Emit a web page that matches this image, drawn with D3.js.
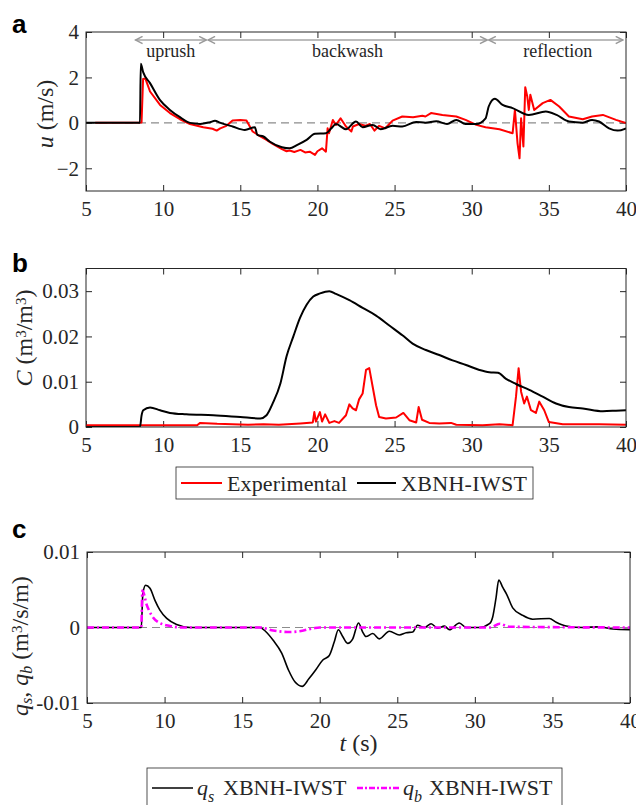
<!DOCTYPE html>
<html>
<head>
<meta charset="utf-8">
<script src="https://cdn.jsdelivr.net/npm/d3@7"></script>
<style>
  body { margin: 0; background: #fff; }
  svg text { font-family: "Liberation Serif", "Times New Roman", serif; fill: #262626; }
  .letter { font-family: "Liberation Sans", Arial, sans-serif; font-weight: bold; fill: #000; }
</style>
</head>
<body>
<svg id="chart" width="636" height="805"></svg>
<script>
// ---- data ----
const xTicks = [5, 10, 15, 20, 25, 30, 35, 40];
const uTicks = [-2, 0, 2, 4];
const cTicks = [0, 0.01, 0.02, 0.03];
const qTicks = [-0.01, 0, 0.01];

// phases in panel a: [start, end, label]
const phases = [[8.2, 12.8, 'uprush'], [12.9, 31.0, 'backwash'], [31.1, 39.8, 'reflection']];

// panel a, velocity u (m/s)
const uModel = [[5, 0], [8.5, 0], [8.55, 2.6], [8.71, 2.22], [9.15, 1.75], [9.8, 1.0], [10.44, 0.57],
  [11.09, 0.25], [11.74, 0], [12.4, -0.05], [13.04, 0.03], [13.36, 0.09], [13.68, 0.01], [14.5, -0.16],
  [15.3, -0.31], [15.95, -0.19], [16.1, -0.53], [16.5, -0.6], [16.9, -0.82], [17.7, -1.07], [18.2, -1.12],
  [18.7, -0.97], [19.3, -0.75], [19.84, -0.48], [20.55, -0.46], [20.9, -0.24], [21.2, -0.05], [21.85, -0.28],
  [22.5, 0.06], [22.93, -0.19], [23.58, -0.09], [24.1, -0.28], [24.87, -0.13], [25.5, -0.16], [26.4, 0.04],
  [27, 0.01], [27.7, 0.07], [28.4, -0.05], [29, 0.13], [29.6, -0.05], [30.3, -0.05], [30.9, 0.2], [31.1, 0.72],
  [31.5, 1.06], [32.0, 0.79], [32.65, 0.65], [33.7, 0.35], [34.8, 0.5], [35.5, 0.35], [36.3, 0.06], [37.2, 0.01],
  [37.8, 0.13], [38.25, 0.06], [38.9, -0.24], [39.45, -0.34], [40, -0.24]];
const uExp = [[5.6, 0], [8.6, 0.02], [8.7, 1.93], [8.85, 1.95], [9.15, 1.38], [9.8, 0.79], [10.44, 0.43],
  [11.09, 0.16], [11.74, -0.05], [12.6, -0.19], [13.2, -0.26], [13.47, -0.34], [13.7, -0.24], [14.1, -0.13],
  [14.5, 0.1], [15.0, 0.13], [15.4, 0.1], [15.8, -0.38], [16.3, -0.6], [16.7, -0.75], [17.1, -0.93], [17.7, -1.16],
  [18.0, -1.25], [18.2, -1.22], [18.5, -1.28], [18.9, -1.19], [19.2, -1.3], [19.5, -1.27], [19.84, -1.41],
  [20.0, -1.25], [20.3, -1.12], [20.55, -1.27], [20.66, -0.24], [20.75, -0.46], [21.0, 0.13], [21.2, -0.09],
  [21.5, 0.2], [21.85, -0.16], [22.2, -0.38], [22.3, -0.16], [22.7, -0.05], [23.1, -0.13], [23.4, -0.05],
  [23.7, -0.34], [24.0, -0.13], [24.4, -0.24], [24.87, 0.1], [25.5, 0.28], [26.2, 0.25], [26.8, 0.31],
  [27.0, 0.28], [27.36, 0.43], [28.1, 0.35], [29, 0.28], [29.6, 0.13], [30.3, -0.09], [30.9, -0.19],
  [31.8, -0.28], [32.65, -0.46], [32.8, 0.57], [32.97, -0.9], [33.1, -1.56], [33.2, 0.2], [33.35, -1.04],
  [33.47, 1.57], [33.6, 1.16], [33.7, 0.57], [33.8, 1.24], [34.05, 0.57], [34.6, 0.87], [35.1, 1.01],
  [35.67, 0.72], [36.3, 0.28], [37.2, 0.16], [37.8, 0.28], [38.5, 0.35], [39.35, 0.13], [40, -0.01]];

// panel b, concentration C (m3/m3)
const cModel = [[5, 0], [8.5, 0], [8.6, 0.0025], [8.71, 0.0037], [9.15, 0.0043], [9.8, 0.0037],
  [10.44, 0.0031], [11.5, 0.0028], [13.25, 0.0026], [15, 0.0022], [16.3, 0.0019], [16.7, 0.0026],
  [17.1, 0.0052], [17.6, 0.0096], [18.0, 0.0156], [18.44, 0.02], [18.87, 0.0241], [19.3, 0.027],
  [19.73, 0.0288], [20.17, 0.0295], [20.77, 0.030], [21.2, 0.0294], [22.07, 0.028], [22.93, 0.0263],
  [23.8, 0.0246], [24.66, 0.0224], [25.53, 0.0202], [26.17, 0.0184], [27.03, 0.017], [27.9, 0.0159],
  [28.76, 0.0147], [29.63, 0.0137], [30.5, 0.0126], [31.14, 0.0121], [31.7, 0.012], [32.2, 0.0107],
  [32.87, 0.0095], [33.73, 0.0082], [34.6, 0.0067], [35.46, 0.0052], [36.3, 0.0044], [37.2, 0.0041],
  [38.5, 0.0035], [39.35, 0.0036], [40, 0.0037]];
const cExp = [[5, 0.0004], [12.2, 0.0004], [12.4, 0.0009], [13.5, 0.0007], [15.5, 0.0005], [16.5, 0.0006],
  [17.5, 0.0005], [18.9, 0.0008], [19.7, 0.001], [19.8, 0.0033], [19.9, 0.0012], [20.16, 0.0033],
  [20.3, 0.0012], [20.5, 0.0028], [20.77, 0.0009], [21.1, 0.0013], [21.4, 0.0009], [21.85, 0.0026],
  [22.07, 0.005], [22.28, 0.0041], [22.5, 0.0037], [22.7, 0.0061], [22.93, 0.0074], [23.15, 0.0126],
  [23.36, 0.013], [23.58, 0.0089], [23.8, 0.0048], [24.0, 0.0022], [24.44, 0.0019], [25.1, 0.0021],
  [25.57, 0.0031], [25.96, 0.0015], [26.4, 0.001], [26.56, 0.0044], [26.78, 0.0016], [27.25, 0.0009],
  [27.9, 0.0008], [28.66, 0.0009], [29, 0.0005], [30.7, 0.0004], [31.8, 0.0006], [32.65, 0.0004],
  [32.87, 0.0067], [33.04, 0.013], [33.2, 0.0078], [33.4, 0.0052], [33.58, 0.0067], [33.84, 0.0037],
  [34.16, 0.0031], [34.38, 0.0056], [34.7, 0.0037], [35.0, 0.0011], [35.9, 0.0006], [38.27, 0.0006],
  [40, 0.0005]];

// panel c, transport q (m3/s/m)
const qsModel = [[5, 0], [8.5, 0], [8.6, 0.0045], [8.78, 0.0056], [9.06, 0.0052], [9.38, 0.0036],
  [9.7, 0.0023], [10.14, 0.0012], [10.78, 0.0004], [11.64, 0], [16.15, 0], [16.5, -0.0005], [17.0, -0.0017],
  [17.55, -0.0034], [18.0, -0.0057], [18.4, -0.0072], [18.87, -0.0078], [19.3, -0.0068], [19.75, -0.0056],
  [20.2, -0.0043], [20.62, -0.0037], [20.94, -0.0019], [21.2, -0.0003], [21.48, -0.0012], [21.8, -0.0021],
  [22.13, -0.0015], [22.5, 0.0006], [22.77, -0.0006], [22.98, -0.0012], [23.42, -0.0008], [23.84, -0.0015],
  [24.49, -0.0005], [25.13, -0.001], [25.57, -0.0007], [26.0, -0.0006], [26.3, 0.0003], [26.75, 0],
  [27.18, 0.0005], [27.6, -0.0001], [28.04, 0.0002], [28.36, -0.0003], [29.0, 0.0006], [29.44, 0],
  [30.3, 0], [30.94, 0.0005], [31.15, 0.0014], [31.37, 0.004], [31.54, 0.0063], [31.8, 0.0053],
  [32.05, 0.0044], [32.44, 0.0026], [33.09, 0.0016], [33.73, 0.0011], [34.8, 0.0012], [35.24, 0.0007],
  [35.88, 0.0002], [36.96, 0], [38.0, 0.0001], [38.9, -0.0002], [40, -0.0003]];
const qbModel = [[5, 0], [8.5, 0], [8.57, 0.0049], [8.85, 0.003], [9.17, 0.0016], [9.6, 0.0007],
  [10.35, 0.0002], [11.2, 0], [16.15, 0], [17.0, -0.0004], [18.1, -0.0006], [18.7, -0.0005],
  [19.6, -0.0001], [20, 0], [31.0, 0], [31.6, 0.0005], [32.2, 0.0001], [40, 0]];

// ---- drawing ----
const svg = d3.select('#chart');
const axisColor = '#262626';
const serif = 'font-family: "Liberation Serif", "Times New Roman", serif';

function makePanel(cfg) {
  const x = d3.scaleLinear().domain([5, 40]).range(cfg.xr);
  const y = d3.scaleLinear().domain(cfg.yd).range(cfg.yr);
  const g = svg.append('g');
  const clipId = 'clip-' + cfg.id;
  svg.append('clipPath').attr('id', clipId).append('rect')
    .attr('x', cfg.xr[0]).attr('y', cfg.yr[1])
    .attr('width', cfg.xr[1] - cfg.xr[0]).attr('height', cfg.yr[0] - cfg.yr[1]);

  // ticks inside the box on all four sides
  const bottom = g.append('g').attr('transform', 'translate(0,' + cfg.yr[0] + ')')
    .call(d3.axisBottom(x).tickValues(xTicks).tickSizeInner(-6).tickSizeOuter(0).tickPadding(9).tickFormat(d3.format('d')));
  const left = g.append('g').attr('transform', 'translate(' + cfg.xr[0] + ',0)')
    .call(d3.axisLeft(y).tickValues(cfg.yt).tickSizeInner(-6).tickSizeOuter(0).tickPadding(7).tickFormat(cfg.fmt));
  g.append('g').attr('transform', 'translate(0,' + cfg.yr[1] + ')')
    .call(d3.axisTop(x).tickValues(xTicks).tickSizeInner(-6).tickSizeOuter(0).tickFormat(''));
  g.append('g').attr('transform', 'translate(' + cfg.xr[1] + ',0)')
    .call(d3.axisRight(y).tickValues(cfg.yt).tickSizeInner(-6).tickSizeOuter(0).tickFormat(''));
  g.selectAll('.domain').remove();
  g.selectAll('.tick line').attr('stroke', axisColor);
  g.selectAll('.tick text').attr('style', serif).attr('font-size', 21).attr('fill', axisColor);
  bottom.selectAll('text').attr('dy', '0.75em');

  const plot = svg.append('g').attr('clip-path', 'url(#' + clipId + ')');
  const panel = { x, y, g, plot };

  if (cfg.zero) {
    plot.append('line')
      .attr('x1', cfg.xr[0]).attr('x2', cfg.xr[1])
      .attr('y1', y(0)).attr('y2', y(0))
      .attr('stroke', '#8c8c8c').attr('stroke-width', 1.2).attr('stroke-dasharray', '8,5');
  }
  return panel;
}

function drawLine(panel, data, color, width, dash, curve) {
  const line = d3.line()
    .x(d => panel.x(d[0]))
    .y(d => panel.y(d[1]))
    .curve(curve || d3.curveLinear);
  panel.plot.append('path')
    .datum(data)
    .attr('fill', 'none')
    .attr('stroke', color)
    .attr('stroke-width', width)
    .attr('stroke-linejoin', 'round')
    .attr('stroke-dasharray', dash || null)
    .attr('d', line);
}

function drawBox(cfg) {
  svg.append('rect')
    .attr('x', cfg.xr[0]).attr('y', cfg.yr[1])
    .attr('width', cfg.xr[1] - cfg.xr[0]).attr('height', cfg.yr[0] - cfg.yr[1])
    .attr('fill', 'none').attr('stroke', axisColor).attr('stroke-width', 1);
}

// panel a
const cfgA = { id: 'a', xr: [86, 626], yd: [-3, 4], yr: [191, 32], yt: uTicks, fmt: d3.format('d'), zero: true };
const pA = makePanel(cfgA);
drawLine(pA, uExp, '#ff0000', 2);
drawLine(pA, uModel, '#000', 2, null, d3.curveMonotoneX);
drawBox(cfgA);

// phase arrows
const arrowY = 40;
svg.append('defs').append('marker')
  .attr('id', 'head').attr('viewBox', '0 0 10 10').attr('refX', 9).attr('refY', 5)
  .attr('markerWidth', 9).attr('markerHeight', 9).attr('markerUnits', 'userSpaceOnUse')
  .attr('orient', 'auto-start-reverse')
  .append('path').attr('d', 'M1,1 L9,5 L1,9').attr('fill', 'none').attr('stroke', '#999').attr('stroke-width', 1.6);
phases.forEach(p => {
  svg.append('line')
    .attr('x1', pA.x(p[0])).attr('x2', pA.x(p[1]))
    .attr('y1', arrowY).attr('y2', arrowY)
    .attr('stroke', '#a6a6a6').attr('stroke-width', 1.6)
    .attr('marker-start', 'url(#head)').attr('marker-end', 'url(#head)');
  svg.append('text')
    .attr('x', pA.x((p[0] + p[1]) / 2) + (p[2] === 'reflection' ? 2 : 0)).attr('y', 57)
    .attr('text-anchor', 'middle').attr('font-size', 18).attr('fill', '#222')
    .text(p[2]);
});

// panel b
const cfgB = { id: 'b', xr: [86, 626], yd: [0, 0.035], yr: [427, 268.5], yt: cTicks,
  fmt: d => d === 0 ? '0' : d3.format('.2f')(d), zero: false };
const pB = makePanel(cfgB);
drawLine(pB, cExp, '#ff0000', 2);
drawLine(pB, cModel, '#000', 2, null, d3.curveMonotoneX);
drawBox(cfgB);

// panel c
const cfgC = { id: 'c', xr: [87, 630], yd: [-0.01, 0.01], yr: [703, 552], yt: qTicks,
  fmt: d => d === 0 ? '0' : (d < 0 ? '-' : '') + d3.format('.2f')(Math.abs(d)), zero: true };
const pC = makePanel(cfgC);
drawLine(pC, qsModel, '#000', 1.6, null, d3.curveMonotoneX);
drawLine(pC, qbModel, '#ff00ff', 2.6, '7,3,2,3', d3.curveMonotoneX);
drawBox(cfgC);

// panel letters
[['a', 33], ['b', 272], ['c', 538]].forEach(d => {
  svg.append('text').attr('class', 'letter').attr('x', 12).attr('y', d[1])
    .attr('font-size', 26).text(d[0]);
});

// y labels
function yLabel(x, y, parts) {
  const t = svg.append('text')
    .attr('transform', 'translate(' + x + ',' + y + ') rotate(-90)')
    .attr('text-anchor', 'middle').attr('font-size', 24).attr('fill', '#222');
  parts.forEach(p => {
    const s = t.append('tspan').text(p.t);
    if (p.i) s.attr('font-style', 'italic');
    if (p.sup) s.attr('baseline-shift', '40%').attr('font-size', 15);
    if (p.sub) s.attr('baseline-shift', '-25%').attr('font-size', 16);
  });
}
yLabel(53, 114, [{ t: 'u', i: true }, { t: ' (m/s)' }]);
yLabel(32, 338, [{ t: 'C', i: true }, { t: ' (m' }, { t: '3', sup: true }, { t: '/m' }, { t: '3', sup: true }, { t: ')' }]);
yLabel(28, 646, [{ t: 'q', i: true }, { t: 's', i: true, sub: true }, { t: ', ' }, { t: 'q', i: true },
  { t: 'b', i: true, sub: true }, { t: ' (m' }, { t: '3', sup: true }, { t: '/s/m)' }]);

// x label
const xl = svg.append('text').attr('x', pC.x(22.5)).attr('y', 751).attr('text-anchor', 'middle')
  .attr('font-size', 24).attr('fill', '#222');
xl.append('tspan').attr('font-style', 'italic').text('t');
xl.append('tspan').text(' (s)');

// legend b
const legB = svg.append('g');
legB.append('rect').attr('x', 176).attr('y', 467).attr('width', 357).attr('height', 32)
  .attr('fill', '#fff').attr('stroke', axisColor).attr('stroke-width', 0.8);
legB.append('line').attr('x1', 181).attr('x2', 222).attr('y1', 483).attr('y2', 483).attr('stroke', '#ff0000').attr('stroke-width', 2);
legB.append('text').attr('x', 227).attr('y', 491).attr('font-size', 22).attr('textLength', 120).text('Experimental');
legB.append('line').attr('x1', 357).attr('x2', 396).attr('y1', 483).attr('y2', 483).attr('stroke', '#000').attr('stroke-width', 2);
legB.append('text').attr('x', 401).attr('y', 491).attr('font-size', 22).attr('textLength', 126).text('XBNH-IWST');

// legend c
const legC = svg.append('g');
legC.append('rect').attr('x', 147).attr('y', 768).attr('width', 415).attr('height', 40)
  .attr('fill', '#fff').attr('stroke', axisColor).attr('stroke-width', 0.8);
legC.append('line').attr('x1', 152).attr('x2', 193).attr('y1', 788).attr('y2', 788).attr('stroke', '#000').attr('stroke-width', 1.6);
const lc1 = legC.append('text').attr('x', 197).attr('y', 795).attr('font-size', 22);
lc1.append('tspan').attr('font-style', 'italic').text('q');
lc1.append('tspan').attr('font-style', 'italic').attr('font-size', 16).attr('dy', 7).text('s');
lc1.append('tspan').attr('dy', -7).attr('x', 223).text('XBNH-IWST');
legC.append('line').attr('x1', 357).attr('x2', 400).attr('y1', 788).attr('y2', 788).attr('stroke', '#ff00ff')
  .attr('stroke-width', 2.4).attr('stroke-dasharray', '6,2,2,2');
const lc2 = legC.append('text').attr('x', 403).attr('y', 795).attr('font-size', 22);
lc2.append('tspan').attr('font-style', 'italic').text('q');
lc2.append('tspan').attr('font-style', 'italic').attr('font-size', 16).attr('dy', 7).text('b');
lc2.append('tspan').attr('dy', -7).attr('x', 429).text('XBNH-IWST');
</script>
</body>
</html>
